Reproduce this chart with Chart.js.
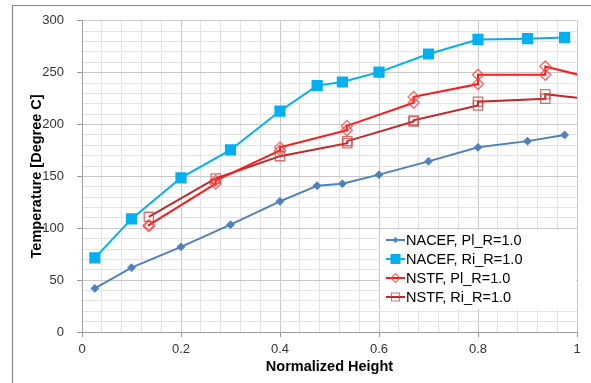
<!DOCTYPE html>
<html>
<head>
<meta charset="utf-8">
<script src="https://cdn.jsdelivr.net/npm/chart.js@4.4.1/dist/chart.umd.min.js"></script>
<style>
  html, body { margin: 0; padding: 0; background: #fff; }
  #wrap { width: 591px; height: 383px; position: relative; }
</style>
</head>
<body>
<div id="wrap"><canvas id="tempChart" width="591" height="383"></canvas></div>
<script>
// series labels
const seriesLabels = ['NACEF, Pl_R=1.0', 'NACEF, Ri_R=1.0', 'NSTF, Pl_R=1.0', 'NSTF, Ri_R=1.0'];

// NACEF runs (normalized height vs temperature)
const nacefHeights = [0.026, 0.10, 0.20, 0.30, 0.40, 0.475, 0.526, 0.60, 0.70, 0.80, 0.90, 0.975];
const nacefPlTemps = [42, 62, 82, 103.5, 126, 141, 143, 151.7, 164.5, 178, 184, 190];
const nacefRiTemps = [71.5, 109, 148.6, 175.5, 213, 237.5, 241, 250.5, 268, 282, 282.8, 283.8];

// NSTF runs (two readings at most heights, last point sits past the axis end)
const nstfPlHeights = [0.135, 0.135, 0.27, 0.27, 0.40, 0.40, 0.535, 0.535, 0.67, 0.67, 0.80, 0.80, 0.936, 0.936, 1.07];
const nstfPlTemps = [102, 103, 143, 146, 175, 178, 194.5, 198.7, 221, 226.7, 239, 248, 248, 256, 240];
const nstfRiHeights = [0.135, 0.27, 0.40, 0.536, 0.536, 0.67, 0.67, 0.80, 0.80, 0.936, 0.936, 1.07];
const nstfRiTemps = [111, 148, 169.5, 182, 184, 203, 204, 218.4, 222, 224.8, 229.2, 222];

// axis ticks
const xMajorTicks = [0, 0.2, 0.4, 0.6, 0.8, 1];
const yMajorTicks = [0, 50, 100, 150, 200, 250, 300];

function toPoints(xs, ys) {
    return xs.map((x, i) => ({ x: x, y: ys[i] }));
}

function isIn(list, v) {
    return list.some(t => Math.abs(t - v) < 1e-6);
}

const styles = [
    { line: '#4f81bd', fill: '#4f81bd', pt: 'rectRot', r: 3.5, w: 2 },
    { line: '#00b0f0', fill: '#00b0f0', pt: 'rect', r: 7, w: 2 },
    { line: '#ff1a1a', fill: 'rgba(255,255,255,0)', pt: 'rectRot', r: 5.5, w: 2 },
    { line: '#c0282a', fill: 'rgba(255,255,255,0)', pt: 'rect', r: 6.5, w: 2 }
];
const pointBorders = ['#4f81bd', '#00b0f0', 'rgba(255,60,60,0.8)', 'rgba(210,60,60,0.75)'];
const legendSizes = [3, 5, 4.5, 4];

const allData = [
    toPoints(nacefHeights, nacefPlTemps),
    toPoints(nacefHeights, nacefRiTemps),
    toPoints(nstfPlHeights, nstfPlTemps),
    toPoints(nstfRiHeights, nstfRiTemps)
];

const datasets = allData.map((d, i) => ({
    label: seriesLabels[i],
    data: d,
    showLine: true,
    borderColor: styles[i].line,
    borderWidth: styles[i].w,
    backgroundColor: styles[i].fill,
    pointStyle: styles[i].pt,
    pointRadius: styles[i].r,
    pointHoverRadius: styles[i].r,
    pointBorderColor: pointBorders[i],
    pointBorderWidth: 1.3,
    pointBackgroundColor: styles[i].fill,
    tension: 0
}));

// outer frame lines (figure was cropped from a page)
const frame = {
    id: 'frame',
    beforeDraw: function(chart) {
        const ctx = chart.ctx;
        ctx.save();
        ctx.fillStyle = '#fff';
        ctx.fillRect(0, 0, chart.width, chart.height);
        ctx.strokeStyle = '#8a8a8a';
        ctx.lineWidth = 1.2;
        ctx.beginPath();
        ctx.moveTo(12.5, chart.height);
        ctx.lineTo(12.5, 5.5);
        ctx.lineTo(chart.width, 5.5);
        ctx.stroke();
        ctx.restore();
    }
};

// legend box drawn inside the plot area, like the original
const boxLegend = {
    id: 'boxLegend',
    afterDraw: function(chart) {
        const ctx = chart.ctx;
        ctx.save();
        ctx.fillStyle = '#fff';
        ctx.fillRect(380, 230, 196, 79);
        const rows = [240, 259, 278, 297];
        ctx.font = '14.5px "Liberation Sans", Arial, sans-serif';
        ctx.textBaseline = 'middle';
        chart.data.datasets.forEach((ds, i) => {
            const y = rows[i];
            const cx = 395.5;
            ctx.strokeStyle = ds.borderColor;
            ctx.lineWidth = 2;
            ctx.beginPath();
            ctx.moveTo(386, y);
            ctx.lineTo(405, y);
            ctx.stroke();
            // marker
            const r = legendSizes[i];
            ctx.beginPath();
            if (ds.pointStyle === 'rect') {
                ctx.rect(cx - r, y - r, 2 * r, 2 * r);
            } else {
                ctx.moveTo(cx, y - r);
                ctx.lineTo(cx + r, y);
                ctx.lineTo(cx, y + r);
                ctx.lineTo(cx - r, y);
                ctx.closePath();
            }
            if (i < 2) {
                ctx.fillStyle = ds.pointBackgroundColor;
                ctx.fill();
            } else {
                ctx.strokeStyle = ds.pointBorderColor;
                ctx.lineWidth = 1.1;
                ctx.stroke();
            }
            ctx.fillStyle = '#000';
            ctx.fillText(ds.label, 406, y + 1);
        });
        ctx.restore();
    }
};

new Chart(document.getElementById('tempChart'), {
    type: 'scatter',
    data: { datasets: datasets },
    plugins: [frame, boxLegend],
    options: {
        responsive: false,
        animation: false,
        events: [],
        layout: { padding: { top: 17, right: 14, left: 0, bottom: 0 } },
        plugins: {
            legend: { display: false },
            tooltip: { enabled: false }
        },
        scales: {
            x: {
                type: 'linear',
                min: 0,
                max: 1,
                afterFit: function(scale) { scale.height = 51; },
                ticks: {
                    stepSize: 0.04,
                    autoSkip: false,
                    maxRotation: 0,
                    padding: 5,
                    color: '#333',
                    font: { family: '"Liberation Sans", Arial, sans-serif', size: 13 },
                    callback: function(v) {
                        return isIn(xMajorTicks, v) ? String(Number(v.toFixed(1))) : '';
                    }
                },
                grid: {
                    color: ctx => isIn(xMajorTicks, ctx.tick.value) ? '#c9c9c9' : '#e3e3e3',
                    tickColor: ctx => isIn(xMajorTicks, ctx.tick.value) ? '#999' : 'rgba(0,0,0,0)',
                    tickLength: 5,
                    lineWidth: 1
                },
                border: { color: '#a0a0a0' },
                title: {
                    display: true,
                    text: 'Normalized Height',
                    color: '#000',
                    font: { family: '"Liberation Sans", Arial, sans-serif', size: 14.5, weight: 'bold' },
                    padding: { top: 0, bottom: 7 }
                }
            },
            y: {
                min: 0,
                max: 300,
                afterFit: function(scale) { scale.width = 82; },
                ticks: {
                    stepSize: 10,
                    autoSkip: false,
                    padding: 13,
                    color: '#333',
                    font: { family: '"Liberation Sans", Arial, sans-serif', size: 13 },
                    callback: function(v) {
                        return isIn(yMajorTicks, v) ? String(v) : '';
                    }
                },
                grid: {
                    color: ctx => isIn(yMajorTicks, ctx.tick.value) ? '#c9c9c9' : '#e3e3e3',
                    tickColor: ctx => isIn(yMajorTicks, ctx.tick.value) ? '#999' : 'rgba(0,0,0,0)',
                    tickLength: 5,
                    lineWidth: 1
                },
                border: { color: '#a0a0a0' },
                title: {
                    display: true,
                    text: 'Temperature [Degree C]',
                    color: '#000',
                    font: { family: '"Liberation Sans", Arial, sans-serif', size: 14.5, weight: 'bold' },
                    padding: { top: 28, bottom: 0 }
                }
            }
        }
    }
});
</script>
</body>
</html>
